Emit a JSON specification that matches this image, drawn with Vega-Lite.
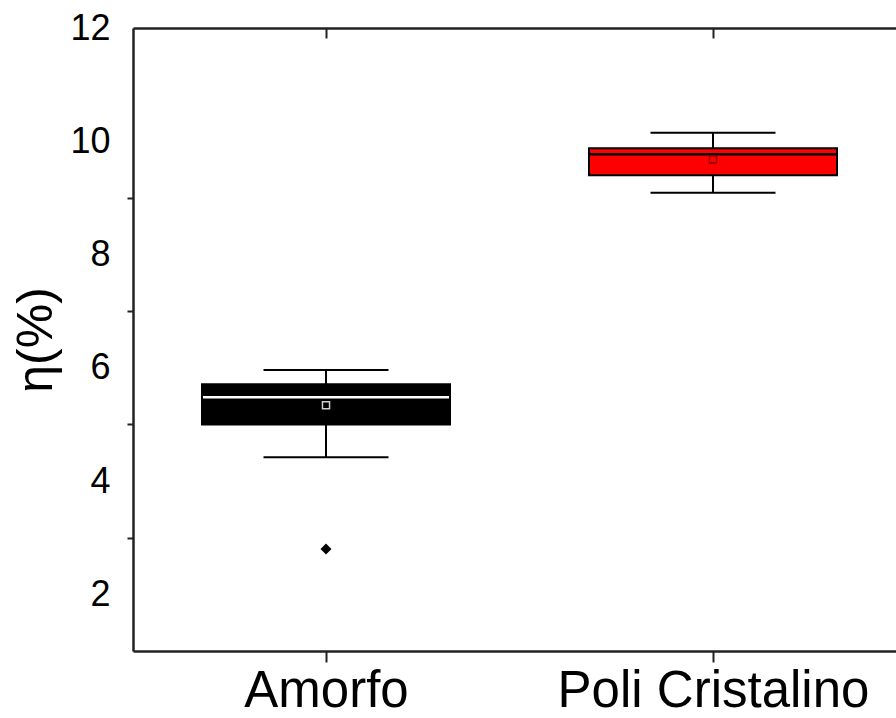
{
  "$schema": "https://vega.github.io/schema/vega-lite/v6.json",
  "width": 763,
  "height": 623,
  "autosize": "none",
  "padding": {"left": 133, "top": 28, "right": 0, "bottom": 67},
  "background": "#ffffff",
  "config": {"view": {"stroke": null}, "font": "Liberation Sans"},
  "data": {
    "values": [
      {"grupo": "Amorfo", "min": 4.42, "q1": 5.0, "med": 5.48, "q3": 5.71, "max": 5.96, "mean": 5.34, "outlier": 2.8},
      {"grupo": "Poli Cristalino", "min": 9.09, "q1": 9.4, "med": 9.77, "q3": 9.875, "max": 10.15, "mean": 9.68, "outlier": null}
    ]
  },
  "resolve": {"scale": {"color": "independent"}, "axis": {"x": "independent"}},
  "layer": [
    {
      "mark": {"type": "rule", "strokeWidth": 2, "color": "#000000"},
      "encoding": {
        "x": {"field": "grupo", "type": "nominal", "title": null,
          "scale": {"type": "point", "domain": ["Amorfo", "Poli Cristalino"], "padding": 0.4858, "align": 0.5133},
          "axis": {"orient": "bottom", "labelAngle": 0, "domainWidth": 2.5, "domainColor": "#222222", "tickSize": 11, "tickWidth": 2, "tickColor": "#222222", "labelFontSize": 51, "labelPadding": 4, "labelLimit": 0, "labelColor": "#000000", "labelFont": "Liberation Sans", "grid": false}},
        "y": {"field": "min", "type": "quantitative", "title": "η(%)",
          "scale": {"domain": [1, 12], "nice": false, "zero": false},
          "axis": {"values": [2, 3, 4, 5, 6, 7, 8, 9, 10, 12], "format": "d", "labelExpr": "datum.value % 2 === 0 ? datum.label : ''",
            "tickOpacity": {"condition": {"test": "datum.value % 2 === 1", "value": 1}, "value": 0},
            "tickSize": 6, "tickWidth": 2, "tickColor": "#222222", "domainColor": "#222222", "domainWidth": 2.5,
            "labelFontSize": 36, "labelColor": "#000000", "labelPadding": 17, "labelLimit": 0, "labelFont": "Liberation Sans", "grid": false,
            "titleFontSize": 50, "titleFontWeight": "normal", "titleColor": "#000000", "titlePadding": 8, "titleFont": "Liberation Sans"}},
        "y2": {"field": "max"}
      }
    },
    {
      "mark": {"type": "tick", "thickness": 2, "size": 125, "color": "#000000", "opacity": 1},
      "encoding": {
        "x": {"field": "grupo", "type": "nominal", "title": null,
          "scale": {"type": "point", "domain": ["Amorfo", "Poli Cristalino"], "padding": 0.4858, "align": 0.5133},
          "axis": {"orient": "top", "labels": false, "domainWidth": 2.5, "domainColor": "#222222", "tickSize": -10, "tickWidth": 2, "tickColor": "#222222", "grid": false}},
        "y": {"field": "min", "type": "quantitative", "title": "η(%)"}
      }
    },
    {
      "mark": {"type": "tick", "thickness": 2, "size": 125, "color": "#000000", "opacity": 1},
      "encoding": {
        "x": {"field": "grupo", "type": "nominal", "title": null, "axis": null,
          "scale": {"type": "point", "domain": ["Amorfo", "Poli Cristalino"], "padding": 0.4858, "align": 0.5133}},
        "y": {"field": "max", "type": "quantitative", "title": "η(%)"}
      }
    },
    {
      "mark": {"type": "bar", "width": 248, "stroke": "#000000", "strokeWidth": 2, "opacity": 1},
      "encoding": {
        "x": {"field": "grupo", "type": "nominal", "title": null, "axis": null,
          "scale": {"type": "point", "domain": ["Amorfo", "Poli Cristalino"], "padding": 0.4858, "align": 0.5133}},
        "y": {"field": "q1", "type": "quantitative", "title": "η(%)"},
        "y2": {"field": "q3"},
        "color": {"field": "grupo", "type": "nominal", "legend": null,
          "scale": {"domain": ["Amorfo", "Poli Cristalino"], "range": ["#000000", "#ff0000"]}}
      }
    },
    {
      "mark": {"type": "tick", "thickness": 2.5, "size": 246, "opacity": 1},
      "encoding": {
        "x": {"field": "grupo", "type": "nominal", "title": null, "axis": null,
          "scale": {"type": "point", "domain": ["Amorfo", "Poli Cristalino"], "padding": 0.4858, "align": 0.5133}},
        "y": {"field": "med", "type": "quantitative", "title": "η(%)"},
        "color": {"field": "grupo", "type": "nominal", "legend": null,
          "scale": {"domain": ["Amorfo", "Poli Cristalino"], "range": ["#ffffff", "#000000"]}}
      }
    },
    {
      "mark": {"type": "point", "shape": "square", "size": 50, "filled": false, "strokeWidth": 1.5, "opacity": 1},
      "encoding": {
        "x": {"field": "grupo", "type": "nominal", "title": null, "axis": null,
          "scale": {"type": "point", "domain": ["Amorfo", "Poli Cristalino"], "padding": 0.4858, "align": 0.5133}},
        "y": {"field": "mean", "type": "quantitative", "title": "η(%)"},
        "color": {"field": "grupo", "type": "nominal", "legend": null,
          "scale": {"domain": ["Amorfo", "Poli Cristalino"], "range": ["#d0d0d0", "#8b0000"]}}
      }
    },
    {
      "mark": {"type": "point", "shape": "diamond", "size": 120, "filled": true, "color": "#000000", "opacity": 1},
      "encoding": {
        "x": {"field": "grupo", "type": "nominal", "title": null, "axis": null,
          "scale": {"type": "point", "domain": ["Amorfo", "Poli Cristalino"], "padding": 0.4858, "align": 0.5133}},
        "y": {"field": "outlier", "type": "quantitative", "title": "η(%)"}
      }
    }
  ]
}
